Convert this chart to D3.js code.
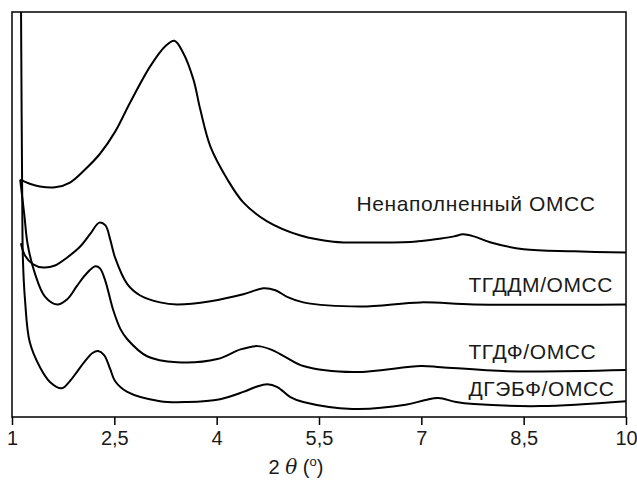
<!DOCTYPE html>
<html>
<head>
<meta charset="utf-8">
<script src="https://cdn.jsdelivr.net/npm/d3@7"></script>
<style>
  body { margin: 0; background: #fff; }
  text { font-family: 'Liberation Sans', Arial, sans-serif; fill: #1a1a1a; }
</style>
</head>
<body>
<svg id="chart" width="637" height="486"></svg>
<script>
/* global d3 */

// 2θ ticks
let xTicks = [1, 2.5, 4, 5.5, 7, 8.5, 10]

// intensity curves, arbitrary units
let unfilledX = [1.12, 1.26, 1.41, 1.63, 1.85, 2.07, 2.29, 2.51, 2.73, 3.03, 3.25, 3.38, 3.51, 3.66, 3.76, 3.91, 4.16, 4.39, 4.74, 5.23, 5.71, 6.26, 6.89, 7.29, 7.48, 7.61, 7.77, 8.02, 8.5, 9.24, 10]
let unfilledY = [58.6, 57.6, 56.9, 56.7, 57.9, 61.1, 65.0, 70.4, 77.6, 86.7, 91.6, 92.9, 89.9, 83.3, 75.9, 66.7, 58.6, 53.0, 48.3, 44.8, 43.3, 43.1, 43.3, 44.1, 44.6, 45.1, 44.6, 43.1, 41.4, 40.9, 40.6]

let tgddmX = [1.13, 1.19, 1.31, 1.46, 1.63, 1.81, 2.0, 2.15, 2.28, 2.37, 2.44, 2.51, 2.69, 2.88, 3.17, 3.42, 3.91, 4.39, 4.69, 4.86, 5.04, 5.27, 6.11, 6.99, 7.77, 10]
let tgddmY = [42.9, 39.9, 37.7, 36.9, 37.4, 39.4, 42.1, 45.3, 48.0, 47.3, 43.8, 39.4, 32.8, 30.0, 28.3, 27.8, 28.6, 30.3, 31.8, 31.3, 29.6, 28.3, 27.3, 28.3, 27.8, 27.8]

let tgdfX = [1.12, 1.18, 1.23, 1.34, 1.48, 1.66, 1.81, 1.95, 2.07, 2.22, 2.29, 2.37, 2.48, 2.59, 2.69, 2.98, 3.42, 4.01, 4.35, 4.6, 4.79, 5.01, 5.27, 6.01, 6.99, 7.29, 8.27, 10]
let tgdfY = [58.6, 50.0, 42.6, 35.2, 29.8, 27.8, 29.1, 32.3, 35.0, 37.2, 36.7, 33.5, 26.6, 21.7, 19.2, 15.0, 13.5, 14.3, 16.7, 17.5, 16.7, 14.8, 12.6, 11.1, 12.6, 12.3, 11.3, 11.6]

let dgebfX = [1.13, 1.14, 1.15, 1.16, 1.19, 1.26, 1.41, 1.56, 1.73, 1.85, 1.95, 2.07, 2.18, 2.26, 2.35, 2.44, 2.51, 2.69, 3.17, 3.57, 4.05, 4.39, 4.57, 4.74, 4.89, 5.08, 5.27, 5.99, 6.77, 7.06, 7.25, 7.51, 7.77, 8.75, 10]
let dgebfY = [107.9, 78.3, 53.7, 38.9, 29.1, 18.5, 12.3, 8.6, 7.1, 8.9, 11.1, 13.8, 15.8, 16.3, 15.3, 11.8, 8.9, 6.2, 3.9, 3.7, 4.4, 6.2, 7.4, 8.1, 7.4, 4.9, 3.7, 2.0, 3.0, 4.2, 4.7, 3.7, 3.2, 2.7, 3.9]

let curveNames = ['Ненаполненный ОМСС', 'ТГДДМ/ОМСС', 'ТГДФ/ОМСС', 'ДГЭБФ/ОМСС']
let curveXs = [unfilledX, tgddmX, tgdfX, dgebfX]
let curveYs = [unfilledY, tgddmY, tgdfY, dgebfY]
// where each name sits: [x value, intensity at baseline]
let labelPos = [[6.05, 50.8], [7.69, 30.8], [7.69, 14.3], [7.69, 5.2]]

let margin = {left: 12, top: 12, right: 11, bottom: 69}
let dim = {w: 637 - margin.left - margin.right, h: 486 - margin.top - margin.bottom}

let svg = d3.select('#chart')
let g = svg.append('g').attr('transform', 'translate(' + margin.left + ',' + margin.top + ')')

let x = d3.scaleLinear().domain([1, 10]).range([0, dim.w])
let y = d3.scaleLinear().domain([0, 100]).range([dim.h, 0])

g.append('clipPath').attr('id', 'plotClip')
  .append('rect')
  .attr('x', 0)
  .attr('y', 0)
  .attr('width', dim.w)
  .attr('height', dim.h)

let line = d3.line()
  .x(d => x(d[0]))
  .y(d => y(d[1]))
  .curve(d3.curveCatmullRom.alpha(0.5))

curveXs.forEach(function (xs, i) {
  let pts = xs.map((v, j) => [v, curveYs[i][j]])
  g.append('path')
    .datum(pts)
    .attr('d', line)
    .attr('clip-path', 'url(#plotClip)')
    .attr('fill', 'none')
    .attr('stroke', '#000')
    .attr('stroke-width', 2)
    .attr('stroke-linejoin', 'round')
})

curveNames.forEach(function (name, i) {
  g.append('text')
    .text(name)
    .attr('x', x(labelPos[i][0]))
    .attr('y', y(labelPos[i][1]))
    .style('font-size', '21px')
    .style('letter-spacing', '0.6px')
})

// frame
g.append('rect')
  .attr('x', 0)
  .attr('y', 0)
  .attr('width', dim.w)
  .attr('height', dim.h)
  .attr('fill', 'none')
  .attr('stroke', '#000')
  .attr('stroke-width', 1.5)

let xAxis = d3.axisBottom(x)
  .tickValues(xTicks)
  .tickFormat(d => String(d).replace('.', ','))
  .tickSize(8)
  .tickPadding(6)

let ax = g.append('g')
  .attr('transform', 'translate(0,' + dim.h + ')')
  .call(xAxis)
ax.select('.domain').remove()
ax.selectAll('.tick line').attr('stroke', '#000').attr('stroke-width', 1.5)
ax.selectAll('.tick text')
  .style('font-size', '20px')
  .style('font-family', "'Liberation Sans', Arial, sans-serif")
  .attr('fill', '#1a1a1a')

let title = svg.append('text')
  .attr('x', 296)
  .attr('y', 474)
  .attr('text-anchor', 'middle')
  .style('font-size', '20px')
title.append('tspan').text('2 ')
title.append('tspan').text('θ').style('font-style', 'italic').style('font-family', "'DejaVu Serif', serif")
title.append('tspan').text(' (')
title.append('tspan').text('o').attr('dy', -8).style('font-size', '13px')
title.append('tspan').text(')').attr('dy', 8)
</script>
</body>
</html>
